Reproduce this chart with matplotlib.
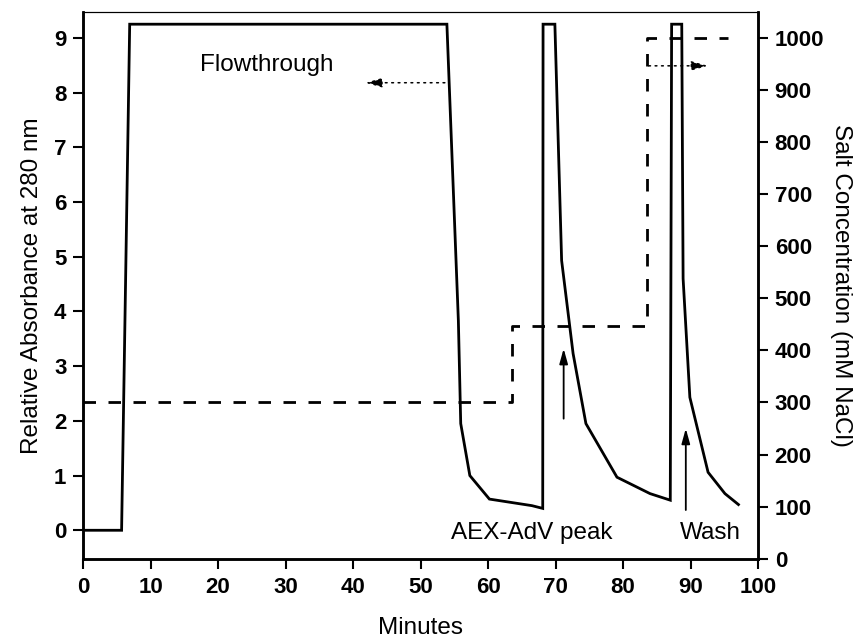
import numpy as np
import matplotlib.pyplot as plt

plt.rcParams['font.family'] = ['Liberation Sans', 'DejaVu Sans']

# Absorbance trace (minutes, relative absorbance at 280 nm)
abs_min = [0, 5.7, 6.9, 53.9, 55.6, 55.95, 57.3, 60.2, 66.5, 68.1,
           68.15, 69.9, 70.9, 72.6, 74.5, 79.1, 84.0, 87.0,
           87.2, 88.7, 88.9, 89.9, 92.6, 95.1, 97.1]
abs_val = [0, 0, 9.25, 9.25, 3.83, 1.95, 1.0, 0.57, 0.45, 0.40,
           9.25, 9.25, 4.93, 3.23, 1.95, 0.97, 0.67, 0.55,
           9.25, 9.25, 4.6, 2.43, 1.06, 0.67, 0.47]

# Salt step gradient (minutes, mM NaCl)
salt_min = [0, 63.5, 63.5, 83.6, 83.6, 95.6]
salt_val = [300, 300, 447, 447, 1000, 1000]

fig = plt.figure(figsize=(8.57, 6.4), dpi=100)
ax = fig.add_axes([0.097, 0.127, 0.7875, 0.854])
ax2 = ax.twinx()

ax.plot(abs_min, abs_val, color='k', lw=2.0, solid_joinstyle='miter')
ax2.plot(salt_min, salt_val, color='k', lw=2.0, dashes=[4.5, 4.5])

ax.set_xlim(0, 100)
ax.set_ylim(-0.52, 9.47)
ax2.set_ylim(0, 1049)
ax.set_xticks(np.arange(0, 101, 10))
ax.set_yticks(np.arange(0, 10, 1))
ax2.set_yticks(np.arange(0, 1001, 100))

for a in (ax, ax2):
    a.tick_params(direction='out', length=7, width=1.5, labelsize=16, pad=5)
    for lab in a.get_xticklabels() + a.get_yticklabels():
        lab.set_fontweight('bold')
    for s in ('left', 'bottom', 'right'):
        a.spines[s].set_linewidth(1.8)
    a.spines['top'].set_linewidth(0.8)
ax.tick_params(axis='x', pad=6)

ax.set_xlabel('Minutes', fontsize=17.5, labelpad=14)
ax.set_ylabel('Relative Absorbance at 280 nm', fontsize=17.5, labelpad=8)
ax2.set_ylabel('Salt Concentration (mM NaCl)', fontsize=17.5, rotation=270, labelpad=20)

# annotations
ax.text(17.3, 8.5, 'Flowthrough', fontsize=17.5, va='center', ha='left')
ax.text(66.5, -0.05, 'AEX-AdV peak', fontsize=17.5, va='center', ha='center')
ax.text(92.9, -0.05, 'Wash', fontsize=17.5, va='center', ha='center')

dotted = dict(arrowstyle='-|>,head_length=1.0,head_width=0.28', ls=(0, (1.2, 3)),
              lw=1.1, color='k', shrinkA=0, shrinkB=0)
ax.annotate('', xy=(41.8, 8.18), xytext=(53.6, 8.18), arrowprops=dotted)
ax2.annotate('', xy=(92.6, 946), xytext=(83.8, 946), arrowprops=dotted)

solid = dict(arrowstyle='-|>,head_length=0.9,head_width=0.25', lw=1.3,
             color='k', shrinkA=0, shrinkB=0)
ax.annotate('', xy=(71.2, 3.32), xytext=(71.2, 2.04), arrowprops=solid)
ax.annotate('', xy=(89.3, 1.86), xytext=(89.3, 0.37), arrowprops=solid)

fig.savefig('out.png', dpi=100)
